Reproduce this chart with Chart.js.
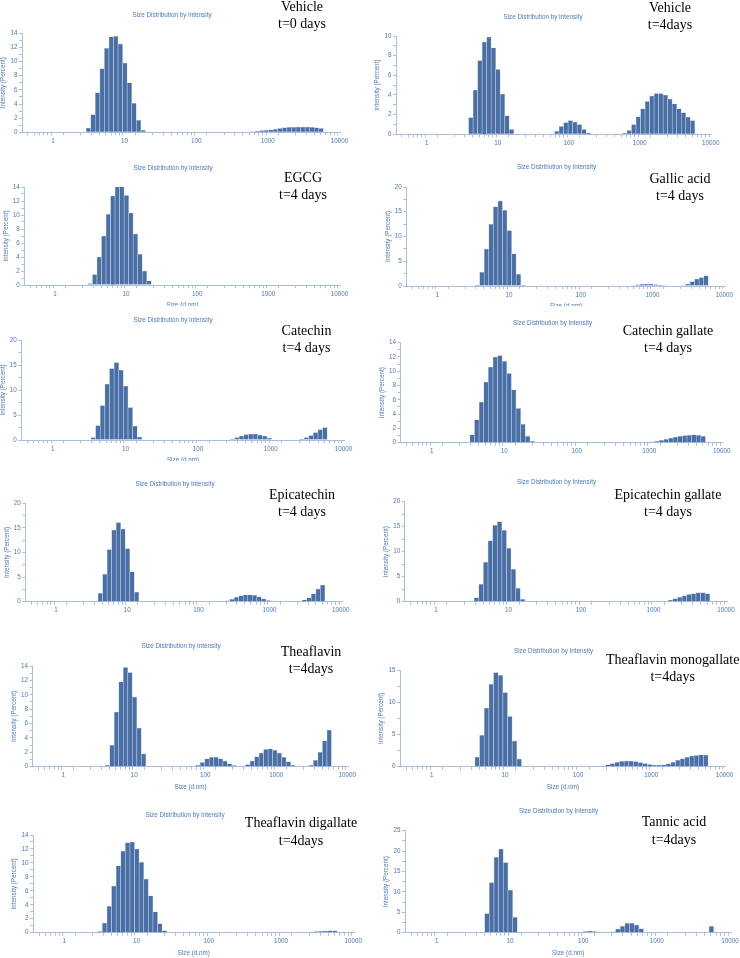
<!DOCTYPE html>
<html>
<head>
<meta charset="utf-8">
<script src="https://cdn.jsdelivr.net/npm/chart.js@4.4.0/dist/chart.umd.min.js"></script>
<style>
  html, body { margin: 0; padding: 0; background: #fff; }
  body { position: relative; width: 740px; height: 958px; overflow: hidden; }
  .panel { position: absolute; overflow: hidden; }
  .panel canvas { position: absolute; left: 0; top: 0; }
  .note {
    position: absolute; transform: translate(-50%, -50%);
    font-family: "Liberation Serif", "Times New Roman", serif;
    font-size: 14px; line-height: 17.3px; color: #000;
    text-align: center; white-space: nowrap;
  }
</style>
</head>
<body>
<script>
// Zetasizer size classes (d.nm)
const sizeBins = [0.4, 0.4632, 0.5365, 0.6213, 0.7195, 0.8332, 0.9649, 1.117, 1.294, 1.499,
  1.736, 2.01, 2.328, 2.696, 3.122, 3.615, 4.187, 4.849, 5.615, 6.503,
  7.531, 8.721, 10.1, 11.7, 13.54, 15.69, 18.17, 21.04, 24.36, 28.21,
  32.67, 37.84, 43.82, 50.75, 58.77, 68.06, 78.82, 91.28, 105.7, 122.4,
  141.8, 164.2, 190.1, 220.2, 255.0, 295.3, 342.0, 396.1, 458.7, 531.2,
  615.1, 712.4, 825.0, 955.4, 1106, 1281, 1484, 1718, 1990, 2305,
  2669, 3091, 3580, 4145, 4801, 5560, 6439, 7456, 8635, 10000];
const sizeTickLabels = [1, 10, 100, 1000, 10000];

// intensity (%) per size class; each peak starts at the class given in "from"
const vehicleDay0 = [
  { from: 3.122, pct: [0.6, 2.5, 5.6, 9.0, 11.9, 13.5, 13.6, 12.5, 9.8, 7.0, 4.1, 1.7, 0.3] },
  { from: 615.1, pct: [0.05, 0.15, 0.25, 0.3, 0.35, 0.45, 0.55, 0.65, 0.7, 0.72, 0.75, 0.75, 0.75, 0.7, 0.65, 0.55] }
];
const vehicleDay4 = [
  { from: 4.187, pct: [1.7, 4.5, 7.5, 9.4, 9.9, 8.8, 6.6, 4.1, 1.9, 0.5] },
  { from: 68.06, pct: [0.3, 0.8, 1.2, 1.4, 1.25, 1.0, 0.5, 0.15] },
  { from: 615.1, pct: [0.1, 0.4, 1.0, 1.8, 2.6, 3.35, 3.9, 4.15, 4.15, 4.0, 3.6, 3.1, 2.6, 2.2, 1.75, 1.4] }
];
const egcgDay4 = [
  { from: 3.122, pct: [0.2, 1.5, 4.0, 7.0, 10.1, 12.7, 14.1, 14.1, 12.8, 10.3, 7.3, 4.4, 2.0, 0.6] }
];
const gallicDay4 = [
  { from: 3.615, pct: [0.2, 2.8, 7.5, 12.5, 16.0, 17.2, 15.3, 11.2, 6.5, 2.4, 0.2] },
  { from: 531.2, pct: [0.1, 0.25, 0.35, 0.4, 0.4, 0.3, 0.2, 0.1] },
  { from: 2669, pct: [0.1, 0.4, 0.9, 1.4, 1.7, 2.1] }
];
const catechinDay4 = [
  { from: 3.615, pct: [0.5, 2.9, 6.9, 11.2, 14.3, 15.5, 14.0, 10.8, 6.5, 2.8, 0.6] },
  { from: 295.3, pct: [0.2, 0.5, 0.8, 1.1, 1.2, 1.2, 1.0, 0.8, 0.4] },
  { from: 2669, pct: [0.2, 0.5, 0.9, 1.5, 2.1, 2.5] }
];
const catechinGallateDay4 = [
  { from: 3.615, pct: [1.1, 3.2, 5.7, 8.5, 10.6, 12.0, 12.2, 11.4, 9.7, 7.4, 4.8, 2.6, 0.9, 0.2] },
  { from: 1106, pct: [0.1, 0.2, 0.35, 0.5, 0.65, 0.8, 0.9, 1.0, 1.05, 1.1, 1.05, 0.9] }
];
const epicatechinDay4 = [
  { from: 4.187, pct: [1.7, 5.6, 10.6, 14.6, 16.1, 14.8, 10.8, 6.1, 2.0] },
  { from: 255.0, pct: [0.2, 0.5, 0.9, 1.2, 1.4, 1.4, 1.3, 1.0, 0.6, 0.25] },
  { from: 3091, pct: [0.4, 0.8, 1.6, 2.6, 3.4] }
];
const epicatechinGallateDay4 = [
  { from: 3.615, pct: [0.8, 3.5, 7.9, 12.2, 15.3, 16.0, 14.3, 10.7, 6.5, 2.7, 0.5] },
  { from: 1718, pct: [0.3, 0.6, 0.9, 1.2, 1.45, 1.6, 1.8, 1.8, 1.6] }
];
const theaflavinDay4 = [
  { from: 4.187, pct: [0.2, 3.0, 7.6, 11.8, 13.8, 13.1, 9.7, 5.4, 1.8] },
  { from: 78.82, pct: [0.2, 0.6, 1.1, 1.3, 1.3, 1.1, 0.8, 0.4, 0.15] },
  { from: 396.1, pct: [0.3, 0.8, 1.4, 1.9, 2.4, 2.5, 2.3, 1.9, 1.3, 0.7, 0.2] },
  { from: 3091, pct: [0.2, 0.9, 2.0, 3.6, 5.1] }
];
const tfMonogallateDay4 = [
  { from: 4.187, pct: [1.5, 4.9, 9.1, 12.8, 14.6, 14.2, 11.5, 7.8, 4.0, 1.2] },
  { from: 220.2, pct: [0.1, 0.3, 0.5, 0.7, 0.85, 0.9, 0.9, 0.8, 0.65, 0.5, 0.35, 0.25, 0.25, 0.3, 0.45, 0.7, 1.0, 1.25, 1.45, 1.65, 1.75, 1.85, 1.8] }
];
const tfDigallateDay4 = [
  { from: 3.122, pct: [0.15, 1.4, 3.8, 6.7, 9.6, 11.7, 12.9, 13.0, 12.0, 10.1, 7.7, 5.3, 3.0, 1.3, 0.3] },
  { from: 2669, pct: [0.1, 0.15, 0.2, 0.25, 0.3, 0.3] }
];
const tannicDay4 = [
  { from: 4.849, pct: [4.7, 12.3, 18.5, 20.5, 17.2, 10.5, 3.8] },
  { from: 91.28, pct: [0.1, 0.25, 0.4, 0.3, 0.1] },
  { from: 255.0, pct: [0.2, 0.9, 1.6, 2.3, 2.3, 1.9, 1.0] },
  { from: 5560, pct: [1.6] }
];

const samples = [vehicleDay0, vehicleDay4, egcgDay4, gallicDay4, catechinDay4, catechinGallateDay4,
  epicatechinDay4, epicatechinGallateDay4, theaflavinDay4, tfMonogallateDay4, tfDigallateDay4, tannicDay4];
const sampleNames = ["Vehicle", "Vehicle", "EGCG", "Gallic acid", "Catechin", "Catechin gallate",
  "Epicatechin", "Epicatechin gallate", "Theaflavin", "Theaflavin monogallate", "Theaflavin digallate", "Tannic acid"];
const sampleTimes = ["t=0 days", "t=4days", "t=4 days", "t=4 days", "t=4 days", "t=4 days",
  "t=4 days", "t=4 days", "t=4days", "t=4days", "t=4days", "t=4days"];
const yMax = [14, 10, 14, 20, 20, 14, 20, 20, 14, 15, 14, 25];
const yMinorStep = [1, 1, 1, 2.5, 2.5, 1, 2.5, 2.5, 1, 2.5, 1, 2.5];
const yLabelStep = [2, 2, 2, 5, 5, 2, 5, 5, 2, 5, 2, 5];

// page layout: plot area (l, r, t, b), chart title centre, sample label centre, visible bottom
const layout = [
  { l: 22.1, r: 340.6, t: 33.3, b: 132.3, tx: 172, ty: 15, nx: 302, ny: 14.5, clip: 150 },
  { l: 396.0, r: 711.9, t: 36.0, b: 134.3, tx: 543, ty: 17, nx: 670, ny: 16, clip: 150 },
  { l: 24.3, r: 340.6, t: 187, b: 285, tx: 173, ty: 168, nx: 303, ny: 186, clip: 306 },
  { l: 406.3, r: 725.5, t: 187, b: 286, tx: 556.7, ty: 167.7, nx: 680, ny: 186.7, clip: 306 },
  { l: 21.3, r: 344.7, t: 340, b: 440, tx: 173, ty: 320.7, nx: 306.5, ny: 338.7, clip: 461 },
  { l: 400.4, r: 722.9, t: 342.7, b: 442.7, tx: 552.7, ty: 323.3, nx: 668, ny: 338.7, clip: 455 },
  { l: 25.3, r: 342, t: 503.3, b: 601.7, tx: 175, ty: 484.3, nx: 302, ny: 503, clip: 615 },
  { l: 404.7, r: 727.2, t: 501.7, b: 601.7, tx: 556.7, ty: 482, nx: 668, ny: 503, clip: 615 },
  { l: 32.6, r: 348.5, t: 666, b: 766.7, tx: 181, ty: 646.7, nx: 311, ny: 660, clip: 795 },
  { l: 400.1, r: 725.7, t: 670, b: 766.7, tx: 553.3, ty: 651.7, nx: 672.7, ny: 667.7, clip: 795 },
  { l: 33.1, r: 354.5, t: 835, b: 932.7, tx: 185, ty: 815.7, nx: 301, ny: 831.3, clip: 958 },
  { l: 405, r: 731.3, t: 830.7, b: 932.7, tx: 558.3, ty: 811.7, nx: 674, ny: 830.3, clip: 958 }
];

const SANS = '"Liberation Sans", Arial, sans-serif';
const FONT_SIZE = 6.3;
const LINE_H = FONT_SIZE * 1.2;
const TEXT_BLUE = "#4b79b8";
const AXIS_BLUE = "#a9bfdd";
const BAR_BLUE = "#4a6fa5";
const BAR_EDGE = "#c3d1e8";

// minor tick marks 1..9 per decade
const sizeTicks = [];
[0.1, 1, 10, 100, 1000].forEach(d => {
  for (let m = 1; m <= 9; m++) {
    const v = +(m * d).toPrecision(3);
    if (v >= 0.4) sizeTicks.push(v);
  }
});
sizeTicks.push(10000);

const smallFont = { family: SANS, size: FONT_SIZE, weight: "normal", lineHeight: 1.2 };

samples.forEach((peaks, i) => {
  const box = layout[i];

  const pct = sizeBins.map(() => 0);
  peaks.forEach(p => {
    const start = sizeBins.indexOf(p.from);
    p.pct.forEach((v, k) => { pct[start + k] = v; });
  });

  // canvas placement so the plot area and the title land where the figure has them
  const L = Math.min(Math.round(box.l - 22), Math.floor(2 * box.tx - box.r - 10));
  const W = Math.round(2 * (box.tx - L));
  const T = Math.round(box.ty - LINE_H / 2);
  const H = Math.round(box.b - T + 25);
  const yAxisW = box.l - L;
  const rightGap = W - (box.r - L);
  const xAxisH = H - (box.b - T);
  const titleTop = box.ty - LINE_H / 2 - T;
  const titleBottom = box.t - T - titleTop - LINE_H;

  const wrap = document.createElement("div");
  wrap.className = "panel";
  wrap.style.left = L + "px";
  wrap.style.top = T + "px";
  wrap.style.width = W + "px";
  wrap.style.height = Math.min(H, box.clip - T) + "px";
  const canvas = document.createElement("canvas");
  canvas.width = W;
  canvas.height = H;
  canvas.style.width = W + "px";
  canvas.style.height = H + "px";
  wrap.appendChild(canvas);
  document.body.appendChild(wrap);

  new Chart(canvas, {
    type: "bar",
    data: {
      datasets: [{
        data: sizeBins.map((s, k) => ({ x: s, y: pct[k] })),
        backgroundColor: BAR_BLUE,
        borderColor: BAR_EDGE,
        borderWidth: 0.6,
        borderSkipped: "start",
        barPercentage: 1,
        categoryPercentage: 1,
        barThickness: "flex"
      }]
    },
    options: {
      responsive: false,
      animation: false,
      events: [],
      layout: { padding: 0 },
      plugins: {
        legend: { display: false },
        tooltip: { enabled: false },
        title: {
          display: true,
          text: "Size Distribution by Intensity",
          color: TEXT_BLUE,
          font: smallFont,
          padding: { top: titleTop, bottom: titleBottom }
        }
      },
      scales: {
        x: {
          type: "logarithmic",
          min: 0.37,
          max: 10400,
          title: {
            display: true,
            text: "Size (d.nm)",
            color: TEXT_BLUE,
            font: smallFont,
            padding: { top: 0, bottom: xAxisH - 20.5 - LINE_H / 2 }
          },
          grid: { drawOnChartArea: false, drawTicks: true, tickLength: 3, color: AXIS_BLUE, lineWidth: 1 },
          border: { display: true, color: AXIS_BLUE, width: 1 },
          ticks: {
            autoSkip: false,
            maxRotation: 0,
            color: TEXT_BLUE,
            font: smallFont,
            padding: 2,
            callback: v => sizeTickLabels.includes(v) ? String(v) : ""
          },
          afterBuildTicks: scale => { scale.ticks = sizeTicks.map(v => ({ value: v })); },
          afterFit: scale => {
            scale.height = xAxisH;
            scale.paddingLeft = 0;
            scale.paddingRight = rightGap;
          }
        },
        y: {
          min: 0,
          max: yMax[i],
          title: {
            display: true,
            text: "Intensity (Percent)",
            color: TEXT_BLUE,
            font: smallFont,
            padding: { top: box.l - 18.5 - L - LINE_H / 2, bottom: 0 }
          },
          grid: { drawOnChartArea: false, drawTicks: true, tickLength: 3, color: AXIS_BLUE, lineWidth: 1 },
          border: { display: true, color: AXIS_BLUE, width: 1 },
          ticks: {
            stepSize: yMinorStep[i],
            autoSkip: false,
            color: TEXT_BLUE,
            font: smallFont,
            padding: 1.5,
            callback: v => (v % yLabelStep[i] === 0 ? String(v) : "")
          },
          afterFit: scale => {
            scale.width = yAxisW;
            scale.paddingTop = 0;
            scale.paddingBottom = 0;
          }
        }
      }
    }
  });

  const note = document.createElement("div");
  note.className = "note";
  note.style.left = box.nx + "px";
  note.style.top = box.ny + "px";
  [sampleNames[i], sampleTimes[i]].forEach(line => {
    const d = document.createElement("div");
    d.textContent = line;
    note.appendChild(d);
  });
  document.body.appendChild(note);
});
</script>
</body>
</html>
